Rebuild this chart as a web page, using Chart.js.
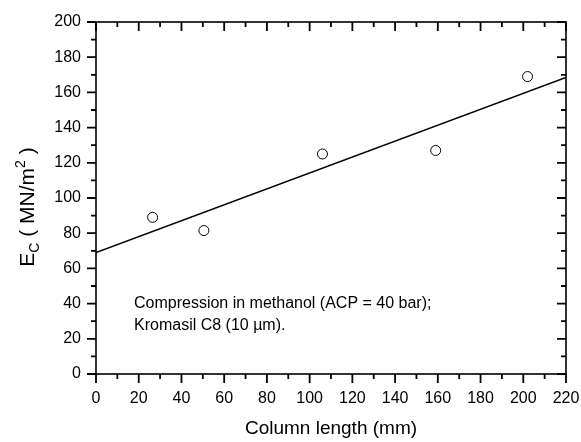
<!DOCTYPE html>
<html lang="en">
<head>
    <meta charset="UTF-8">
    <title>Compression modulus vs column length</title>
    <script src="https://cdn.jsdelivr.net/npm/chart.js@4/dist/chart.umd.min.js"></script>
    <style>
        html, body { margin: 0; padding: 0; background: #fff; }
        #wrap { width: 581px; height: 442px; }
    </style>
</head>
<body>
    <div id="wrap"><canvas id="chart" width="581" height="442"></canvas></div>

    <script>
        // measured points
        const columnLength = [26.5, 50.5, 106, 159, 202];
        const ecValues = [89, 81.5, 125, 127, 169];
        // linear fit end points
        const fitX = [0, 220];
        const fitY = [69, 168.5];
        const noteLines = ['Compression in methanol (ACP = 40 bar);', 'Kromasil C8 (10 \u00b5m).'];

        const FONT = '"Liberation Sans", Arial, sans-serif';

        // frame, tick marks and texts drawn on top of the scales
        const decorations = {
            id: 'decorations',
            afterDraw(chart) {
                const { ctx, chartArea: a, scales: { x, y } } = chart;
                ctx.save();
                ctx.strokeStyle = '#000';
                ctx.lineWidth = 1.6;
                ctx.strokeRect(a.left, a.top, a.right - a.left, a.bottom - a.top);

                ctx.lineWidth = 1.8;
                ctx.beginPath();
                for (let v = 0; v <= 220; v += 10) {
                    const px = x.getPixelForValue(v);
                    const len = v % 20 === 0 ? 9 : 5;
                    ctx.moveTo(px, a.bottom); ctx.lineTo(px, a.bottom + len);
                    ctx.moveTo(px, a.top); ctx.lineTo(px, a.top + len);
                }
                for (let v = 0; v <= 200; v += 10) {
                    const py = y.getPixelForValue(v);
                    const len = v % 20 === 0 ? 9 : 5;
                    ctx.moveTo(a.left, py); ctx.lineTo(a.left - len, py);
                    ctx.moveTo(a.right, py); ctx.lineTo(a.right - len, py);
                }
                ctx.stroke();

                // x axis title
                ctx.fillStyle = '#000';
                ctx.font = '19px ' + FONT;
                ctx.textAlign = 'center';
                ctx.textBaseline = 'middle';
                ctx.fillText('Column length (mm)', (a.left + a.right) / 2, 429);

                // y axis title with sub/superscript
                ctx.translate(27, 207);
                ctx.rotate(-Math.PI / 2);
                const parts = [
                    { t: 'E', size: 21, dy: 0 },
                    { t: 'C', size: 14, dy: 5 },
                    { t: ' ( MN/m', size: 21, dy: 0 },
                    { t: '2', size: 14, dy: -9 },
                    { t: ' )', size: 21, dy: 0 }
                ];
                let total = 0;
                parts.forEach(p => { ctx.font = p.size + 'px ' + FONT; p.w = ctx.measureText(p.t).width; total += p.w; });
                let cx = -total / 2;
                ctx.textAlign = 'left';
                ctx.textBaseline = 'alphabetic';
                parts.forEach(p => {
                    ctx.font = p.size + 'px ' + FONT;
                    ctx.fillText(p.t, cx, 7 + p.dy);
                    cx += p.w;
                });
                ctx.restore();

                // note inside the plot
                ctx.save();
                ctx.fillStyle = '#000';
                ctx.font = '16px ' + FONT;
                ctx.textAlign = 'left';
                ctx.textBaseline = 'alphabetic';
                ctx.fillText(noteLines[0], 134, 308);
                ctx.fillText(noteLines[1], 134, 330);
                ctx.restore();
            }
        };

        new Chart(document.getElementById('chart'), {
            type: 'scatter',
            data: {
                datasets: [
                    {
                        label: 'Ec',
                        data: columnLength.map((v, i) => ({ x: v, y: ecValues[i] })),
                        pointStyle: 'circle',
                        pointRadius: 5,
                        pointBorderWidth: 1,
                        pointBorderColor: '#000',
                        pointBackgroundColor: 'rgba(0,0,0,0)',
                        showLine: false
                    },
                    {
                        label: 'fit',
                        data: fitX.map((v, i) => ({ x: v, y: fitY[i] })),
                        showLine: true,
                        borderColor: '#000',
                        borderWidth: 1.6,
                        pointRadius: 0
                    }
                ]
            },
            options: {
                responsive: false,
                animation: false,
                layout: { padding: { left: 0, top: 22, right: 15, bottom: 0 } },
                plugins: { legend: { display: false }, tooltip: { enabled: false } },
                scales: {
                    x: {
                        type: 'linear',
                        min: 0, max: 220,
                        grid: { display: false, drawTicks: false },
                        border: { display: false },
                        ticks: { stepSize: 20, padding: 15, color: '#000', font: { family: FONT, size: 16 }, maxRotation: 0 },
                        afterFit(scale) {
                            scale.height = 68;
                            scale.paddingLeft = 0;
                            scale.paddingRight = 0;
                        }
                    },
                    y: {
                        type: 'linear',
                        min: 0, max: 200,
                        grid: { display: false, drawTicks: false },
                        border: { display: false },
                        ticks: { stepSize: 20, padding: 15, color: '#000', font: { family: FONT, size: 16 } },
                        afterFit(scale) {
                            scale.width = 96;
                            scale.paddingTop = 0;
                            scale.paddingBottom = 0;
                        }
                    }
                }
            },
            plugins: [decorations]
        });
    </script>
</body>
</html>
